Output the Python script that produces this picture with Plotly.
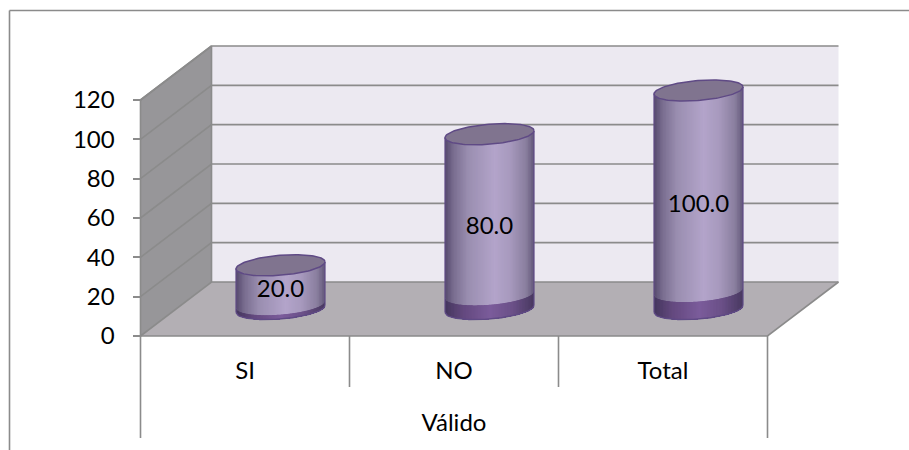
import numpy as np
import plotly.graph_objects as go

# ---- data ----
categories = ["SI", "NO", "Total"]
group_label = "Válido"
values = [20.0, 80.0, 100.0]
value_labels = ["20.0", "80.0", "100.0"]
y_ticks = [0, 20, 40, 60, 80, 100, 120]

# ---- geometry / style constants ----
W, H = 909, 450
PX_X = 209.0            # pixels per category
X0 = 245.0              # pixel of first category on the front axis
PX_Y = 1.9667           # pixels per value unit on the front axis
Y0 = 336.0              # pixel of zero on the front axis
DX = 71.0 / PX_X        # depth vector (category units)
DY = 54.0 / PX_Y        # depth vector (value units)
K = 1.111               # cylinder height stretch caused by the 3-D view
A = 44.5 / PX_X         # cylinder half width
TILT = 3.5 / PX_Y       # ellipse tilt
B = 10.0 / PX_Y         # ellipse half height
BAND = [2.0, 6.5, 8.0]  # darker band at the foot of each cylinder
LABEL_DROP = 1.7        # value labels sit slightly below mid height
FONT = "Lato"
GRID = "#8b8b8b"
N_STRIPS = 60
BODY = [(-1, "#594d70"), (-0.82, "#7a6e90"), (-0.5, "#9a8eb0"), (0.1, "#b3a4ca"), (0.45, "#a799bd"), (0.8, "#8a7f9f"), (1, "#5f5476")]
FOOT = [(-1, "#46375f"), (-0.6, "#64497f"), (0.0, "#7b5c9b"), (0.5, "#6b5088"), (1, "#47385f")]

fig = go.Figure()


def hexrgb(c):
    return np.array([int(c[i:i + 2], 16) for i in (1, 3, 5)], float)


def ramp(stops, u):
    xs = [s[0] for s in stops]
    rgb = np.array([hexrgb(s[1]) for s in stops])
    v = [np.interp(u, xs, rgb[:, i]) for i in range(3)]
    return "rgb(%d,%d,%d)" % tuple(int(round(c)) for c in v)


def poly(xs, ys, fill, line=None, lw=0):
    fig.add_trace(go.Scatter(x=list(xs), y=list(ys), mode="lines" if lw else "none", fill="toself", fillcolor=fill,
                             line=dict(color=line or fill, width=lw), hoverinfo="skip", showlegend=False))


def path(xs, ys, color=GRID, lw=1.6):
    fig.add_trace(go.Scatter(x=list(xs), y=list(ys), mode="lines", line=dict(color=color, width=lw),
                             hoverinfo="skip", showlegend=False))


n = len(categories)
xl, xr = -0.5, n - 0.5
top = y_ticks[-1]

# walls and floor
poly([xl, xl + DX, xr + DX, xr + DX, xl + DX], [0, DY, DY, top + DY, top + DY], "#ece9f1")
poly([xl, xl + DX, xl + DX, xl], [0, DY, top + DY, top], "#979699")
poly([xl, xr, xr + DX, xl + DX], [0, 0, DY, DY], "#b3afb4")

# gridlines run along the side wall and the back wall
for t in y_ticks:
    path([xl, xl + DX, xr + DX], [t, t + DY, t + DY])
path([xl + DX, xl + DX], [DY, top + DY])
path([xl, xr, xr + DX], [0, 0, DY])
path([xl, xl], [0, top])
path([xl, xl + DX], [top, top + DY])

# cylinders: each strip paints from its left edge to the far right, so no seams show
for i, v in enumerate(values):
    cx = i + DX / 2
    base = DY / 2
    h = v * K
    band = BAND[i] * K
    lower = lambda u, lift: base + lift + TILT * u - B * np.sqrt(np.clip(1 - u * u, 0, 1))
    edges = np.linspace(-1, 1, N_STRIPS + 1)
    for a in edges[:-1]:
        us = np.linspace(a, 1, 40)
        xs = cx + A * us
        y_low = lower(us, band)
        poly(np.r_[xs, xs[::-1]], np.r_[y_low, lower(us, h)[::-1]], ramp(BODY, a))
        poly(np.r_[xs, xs[::-1]], np.r_[lower(us, 0), y_low[::-1]], ramp(FOOT, a))
    u = np.linspace(-1, 1, 80)
    path(cx + A * u, lower(u, 0), "#5f4a85", 1.4)
    path([cx - A, cx - A], [base - TILT, base - TILT + h], "#5f4a85", 1.2)
    path([cx + A, cx + A], [base + TILT, base + TILT + h], "#5f4a85", 1.2)
    t = np.linspace(0, 2 * np.pi, 120)
    poly(cx + A * np.cos(t), base + h + TILT * np.cos(t) + B * np.sin(t), "#80748f", "#5f4a85", 1.5)

# value labels
fig.add_trace(go.Scatter(x=[i + DX / 2 for i in range(n)],
                         y=[DY / 2 + v * K * 0.485 - LABEL_DROP for v in values],
                         text=value_labels, mode="text", textposition="middle center",
                         textfont=dict(family=FONT, size=24, color="#000000"),
                         hoverinfo="skip", showlegend=False))

# multi-level category separators below the axis
low1, low2 = -51 / PX_Y, -102 / PX_Y
path([xl, xl], [0, low2])
path([xr, xr], [0, low2])
for j in range(1, n):
    path([j - 0.5, j - 0.5], [0, low1])
fig.add_trace(go.Scatter(x=[(n - 1) / 2], y=[-88.5 / PX_Y], text=[group_label], mode="text",
                         textposition="middle center",
                         textfont=dict(family=FONT, size=24, color="#000000"),
                         hoverinfo="skip", showlegend=False))

fig.update_layout(
    width=W, height=H, margin=dict(l=0, r=0, t=0, b=0),
    paper_bgcolor="#ffffff", plot_bgcolor="#ffffff", showlegend=False,
    xaxis=dict(range=[-X0 / PX_X, (W - X0) / PX_X], domain=[0, 1], anchor="free", position=1 - Y0 / H,
               tickmode="array", tickvals=list(range(n)), ticktext=categories, ticks="",
               ticklabelstandoff=18, showgrid=False, zeroline=False, showline=False,
               tickfont=dict(family=FONT, size=24, color="#000000")),
    yaxis=dict(range=[(Y0 - H) / PX_Y, Y0 / PX_Y], domain=[0, 1], anchor="free", position=(X0 - PX_X / 2) / W,
               tickmode="array", tickvals=y_ticks, ticktext=[str(t) for t in y_ticks], ticks="outside",
               ticklen=8, tickwidth=1.6, tickcolor=GRID, ticklabelstandoff=13,
               showgrid=False, zeroline=False, showline=False,
               tickfont=dict(family=FONT, size=24, color="#000000")),
    shapes=[
        dict(type="line", xref="paper", yref="paper", x0=9.5 / W, x1=1, y0=1 - 10.5 / H, y1=1 - 10.5 / H,
             line=dict(color=GRID, width=1.6)),
        dict(type="line", xref="paper", yref="paper", x0=9.5 / W, x1=9.5 / W, y0=1 - 10.5 / H, y1=0,
             line=dict(color=GRID, width=1.6)),
    ],
)

fig.write_html("out.html", config=dict(displayModeBar=False),
               post_script="document.body.style.margin='0';document.body.style.overflow='hidden';")
